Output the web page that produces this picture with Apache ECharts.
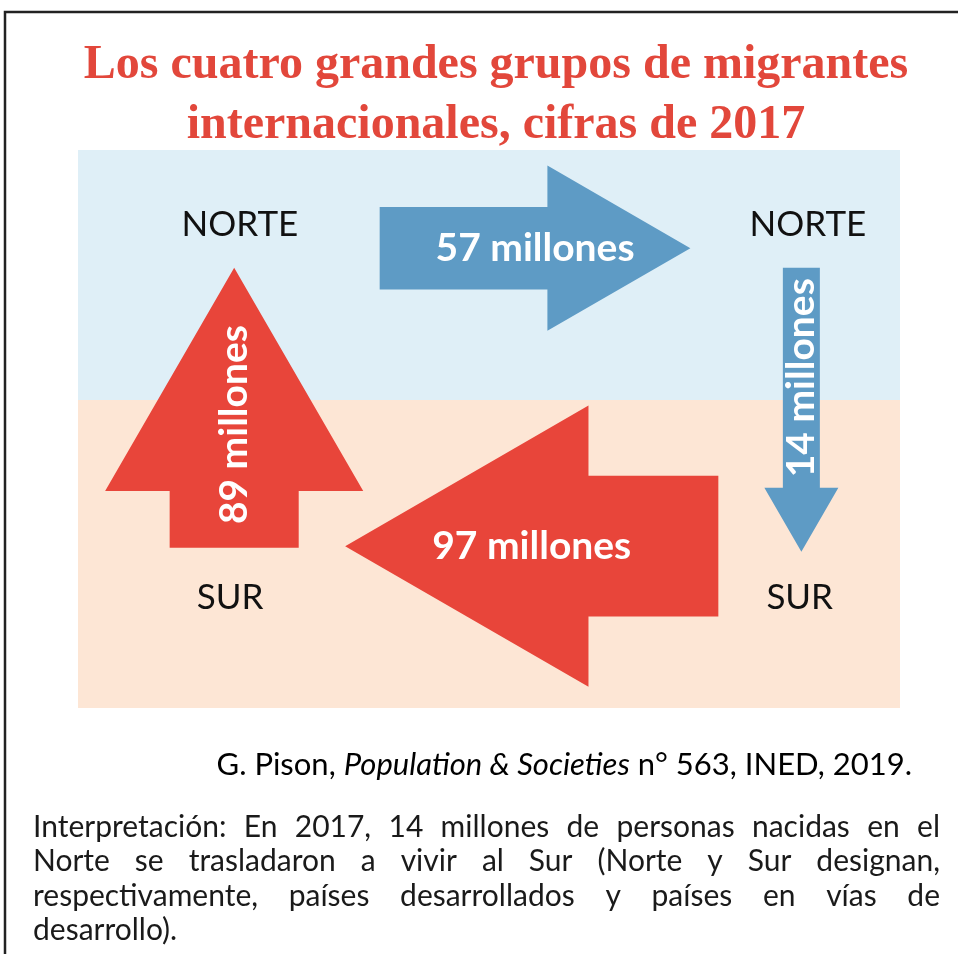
<!DOCTYPE html>
<html>
<head>
<meta charset="utf-8">
<script src="https://cdn.jsdelivr.net/npm/echarts@6/dist/echarts.min.js"></script>
<style>
html, body { margin: 0; padding: 0; background: #fff; }
#chart { width: 958px; height: 954px; }
</style>
</head>
<body>
<div id="chart"></div>
<script>
// flujos migratorios 2017, millones de personas
const flowNames = ['Norte → Norte', 'Norte → Sur', 'Sur → Norte', 'Sur → Sur'];
const flowValues = [57, 14, 89, 97];
const flowLabels = ['57 millones', '14 millones', '89 millones', '97 millones'];
// extremos de cada flecha (cola, punta) en unidades del eje 0-100
const flowFrom = [[36.7, 82.4], [88.0, 78.9], [19.0, 28.7], [77.9, 29.0]];
const flowTo = [[74.5, 82.4], [88.0, 28.0], [19.0, 78.9], [32.5, 29.0]];

const zoneNames = ['NORTE', 'NORTE', 'SUR', 'SUR'];
const zoneX = [19.7, 88.8, 18.5, 87.8];
const zoneY = [86.6, 86.6, 19.7, 19.7];

const bandNames = ['Norte', 'Sur'];
const bandFrom = [55.2, 0];
const bandTo = [100, 55.2];

const titleLines = ['Los cuatro grandes grupos de migrantes', 'internacionales, cifras de 2017'];
const noteLines = [
  'Interpretación: En 2017, 14 millones de personas nacidas en el',
  'Norte se trasladaron a vivir al Sur (Norte y Sur designan,',
  'respectivamente, países desarrollados y países en vías de',
  'desarrollo).'
];

const RED = '#e8453a';
const BLUE = '#5e9bc5';
const bandColors = ['#dfeff7', '#fde6d5'];

const chart = echarts.init(document.getElementById('chart'));

// texto justificado: reparte las palabras de cada línea a lo ancho
const ctx = document.createElement('canvas').getContext('2d');
const noteLeft = 33, noteRight = 940;
let noteSize = 30;
let noteFont = noteSize + 'px Lato';
ctx.font = noteFont;
// si alguna línea no cabe, reducir la letra
while (noteSize > 20 && noteLines.some(l => ctx.measureText(l).width > noteRight - noteLeft - 20)) {
  noteSize -= 1;
  noteFont = noteSize + 'px Lato';
  ctx.font = noteFont;
}
const noteElems = [];
noteLines.forEach((line, i) => {
  const y = 827 + i * 34.5;
  const words = line.split(' ');
  if (i === noteLines.length - 1) {
    noteElems.push({ type: 'text', x: noteLeft, y: y,
      style: { text: line, font: noteFont, fill: '#1a1a1a', verticalAlign: 'middle', textVerticalAlign: 'middle' } });
    return;
  }
  const widths = words.map(w => ctx.measureText(w).width);
  const total = widths.reduce((s, w) => s + w, 0);
  const gap = (noteRight - noteLeft - total) / (words.length - 1);
  let x = noteLeft;
  words.forEach((w, j) => {
    noteElems.push({ type: 'text', x: x, y: y,
      style: { text: w, font: noteFont, fill: '#1a1a1a', verticalAlign: 'middle', textVerticalAlign: 'middle' } });
    x += widths[j] + gap;
  });
});

const option = {
  animation: false,
  grid: { left: 78, top: 150, width: 822, height: 558 },
  xAxis: { type: 'value', min: 0, max: 100, show: false },
  yAxis: { type: 'value', min: 0, max: 100, show: false },
  series: [
    {
      name: 'zonas',
      type: 'custom',
      z: 1,
      data: bandNames.map((n, i) => ({ name: n, value: [bandFrom[i], bandTo[i]] })),
      renderItem: (params, api) => {
        const p0 = api.coord([0, api.value(1)]);
        const p1 = api.coord([100, api.value(0)]);
        return {
          type: 'rect',
          shape: { x: p0[0], y: p0[1], width: p1[0] - p0[0], height: p1[1] - p0[1] },
          style: { fill: bandColors[params.dataIndex] }
        };
      }
    },
    {
      name: 'etiquetas',
      type: 'custom',
      z: 2,
      data: zoneNames.map((n, i) => ({ name: n, value: [zoneX[i], zoneY[i]] })),
      renderItem: (params, api) => {
        const p = api.coord([api.value(0), api.value(1)]);
        return {
          type: 'text', x: p[0], y: p[1],
          style: {
            text: zoneNames[params.dataIndex], font: '35px Lato', fill: '#111',
            align: 'center', verticalAlign: 'middle', textAlign: 'center', textVerticalAlign: 'middle'
          }
        };
      }
    },
    {
      name: 'flujos',
      type: 'custom',
      z: 3,
      data: flowValues.map((v, i) => ({
        name: flowNames[i],
        value: [flowFrom[i][0], flowFrom[i][1], flowTo[i][0], flowTo[i][1], v]
      })),
      renderItem: (params, api) => {
        const i = params.dataIndex;
        const a = api.coord([api.value(0), api.value(1)]);
        const b = api.coord([api.value(2), api.value(3)]);
        const v = api.value(4);
        const w = Math.max(v * 1.45, 37);
        const dx = b[0] - a[0], dy = b[1] - a[1];
        const len = Math.hypot(dx, dy);
        const ux = dx / len, uy = dy / len;
        const nx = -uy, ny = ux;
        const hl = w * 1.73;
        const bx = b[0] - ux * hl, by = b[1] - uy * hl;
        const pt = (x, y, k) => [x + nx * k, y + ny * k];
        const points = [
          pt(a[0], a[1], w / 2), pt(bx, by, w / 2), pt(bx, by, w),
          b,
          pt(bx, by, -w), pt(bx, by, -w / 2), pt(a[0], a[1], -w / 2)
        ];
        const vertical = Math.abs(dx) < 1;
        let cx, cy;
        if (w < 60) {
          cx = (a[0] + bx) / 2; cy = (a[1] + by) / 2;
        } else if (vertical) {
          // texto vertical algo desplazado hacia la cola
          cx = (a[0] + b[0]) / 2; cy = a[1] + dy * 0.44;
        } else {
          cx = (a[0] + b[0]) / 2; cy = (a[1] + b[1]) / 2;
        }
        return {
          type: 'group',
          children: [
            { type: 'polygon', shape: { points: points }, style: { fill: i < 2 ? BLUE : RED } },
            {
              type: 'text', x: cx, y: cy, rotation: vertical ? Math.PI / 2 : 0,
              style: {
                text: flowLabels[i], font: 'bold 39px Lato', fill: '#fff',
                align: 'center', verticalAlign: 'middle', textAlign: 'center', textVerticalAlign: 'middle'
              }
            }
          ]
        };
      }
    }
  ],
  graphic: [
    {
      type: 'polyline',
      shape: { points: [[5, 954], [5, 12], [958, 12]] },
      style: { stroke: '#222', lineWidth: 2.5, fill: null }
    },
    ...titleLines.map((t, i) => ({
      type: 'text', x: 496, y: 66 + i * 60,
      style: {
        text: t, font: 'bold 48px "Liberation Serif"', fill: '#e2473b',
        align: 'center', verticalAlign: 'middle', textAlign: 'center', textVerticalAlign: 'middle'
      }
    })),
    {
      type: 'text', x: 912, y: 765,
      style: {
        text: '{a|G. Pison, }{b|Population & Societies}{a| n° 563, INED, 2019.}',
        align: 'right', verticalAlign: 'middle', textAlign: 'right', textVerticalAlign: 'middle',
        rich: {
          a: { fontFamily: 'Lato', fontSize: 31, color: '#1a1a1a' },
          b: { fontFamily: 'Lato', fontSize: 31, fontStyle: 'italic', color: '#1a1a1a' }
        }
      }
    },
    ...noteElems
  ]
};

chart.setOption(option);
</script>
</body>
</html>
